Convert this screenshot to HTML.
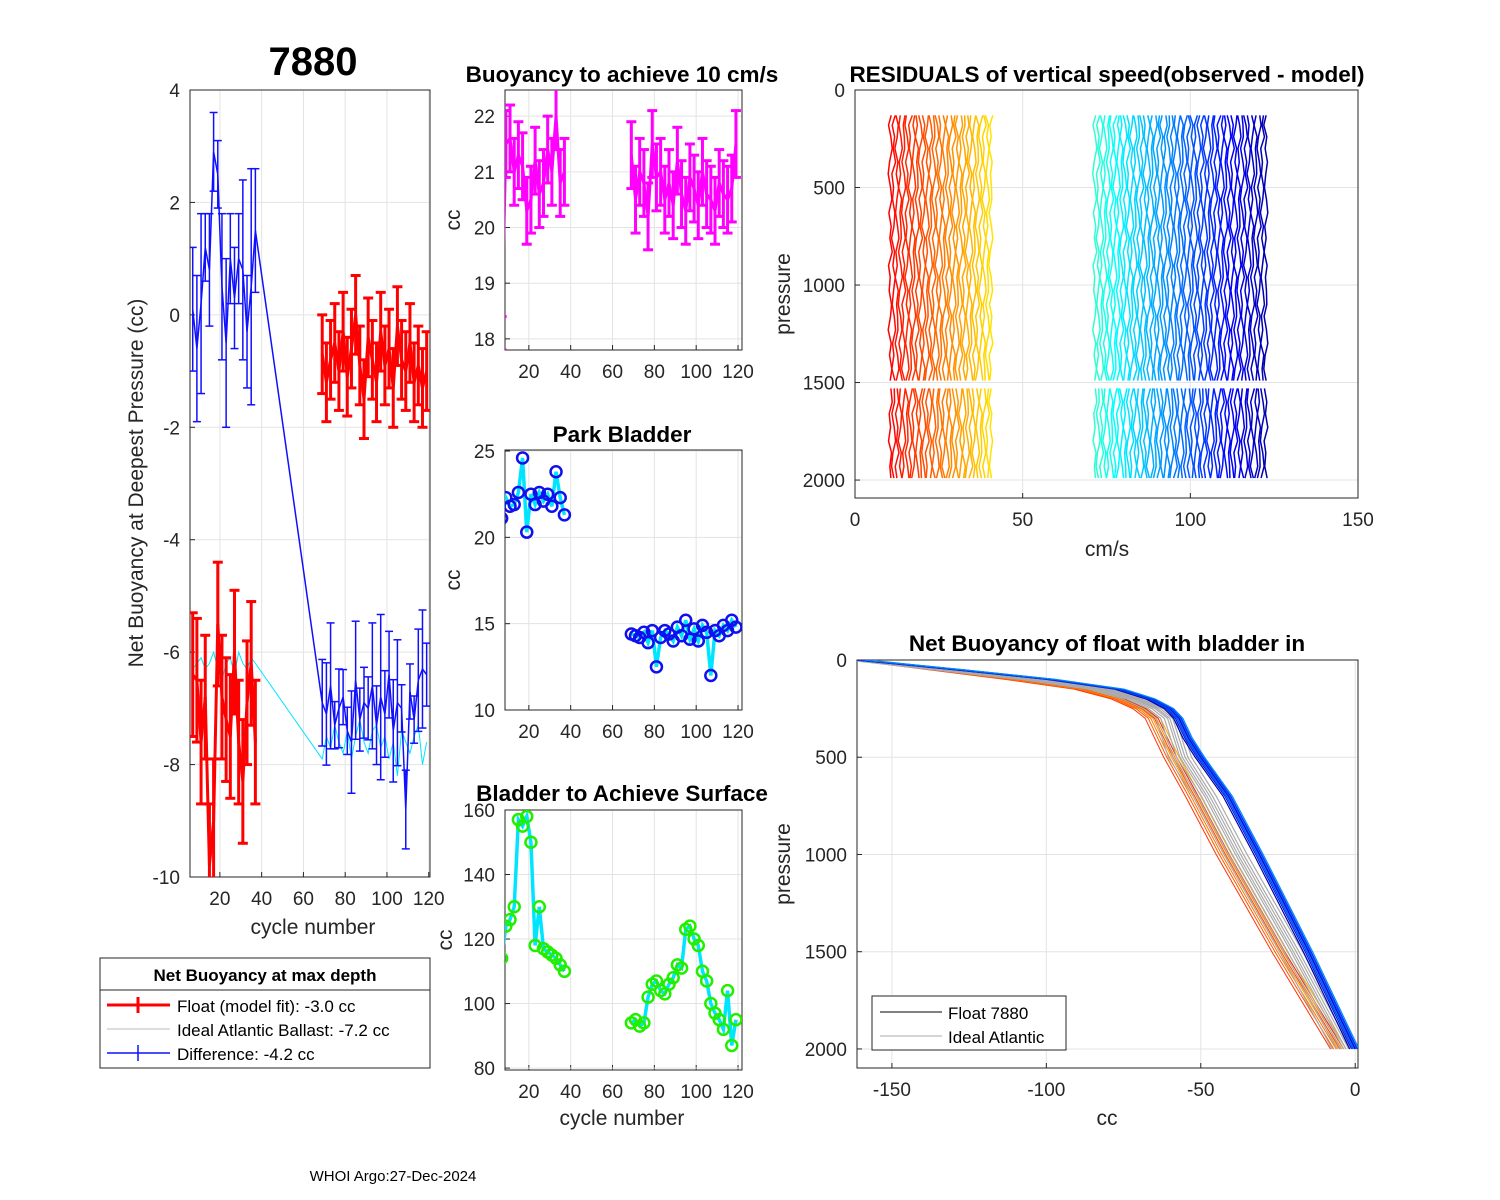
<!DOCTYPE html>
<html><head><meta charset="utf-8">
<style>
html,body{margin:0;padding:0;background:#fff;}
svg{display:block;font-family:"Liberation Sans",Arial,sans-serif;}
</style></head>
<body>
<svg id="s" width="1500" height="1200" viewBox="0 0 1500 1200"></svg>
<script>
// ---------- data ----------
const cyc1 = [7,9,11,13,15,17,19,21,23,25,27,29,31,33,35,37];
const cyc2 = [69,71,73,75,77,79,81,83,85,87,89,91,93,95,97,99,101,103,105,107,109,111,113,115,117,119];
const floatFit1 = [-6.4,-6.5,-7.6,-6.8,-9.8,-9.0,-5.5,-6.8,-7.2,-7.5,-6.0,-7.6,-8.3,-6.9,-6.2,-7.6];
const floatFit2 = [-0.7,-1.2,-0.8,-0.5,-1.0,-0.3,-1.1,-0.6,0.0,-0.9,-1.5,-0.4,-0.8,-1.2,-0.3,-0.9,-0.6,-1.3,-0.2,-0.8,-1.0,-0.5,-1.2,-0.9,-1.3,-1.0];
const diff1 = [0.1,-0.6,0.2,1.2,0.8,2.9,2.5,0.5,-0.5,1.0,0.3,1.0,0.8,-0.3,0.5,1.5];
const diff2 = [-6.9,-7.1,-6.6,-7.3,-7.0,-6.8,-7.4,-7.6,-6.5,-7.2,-6.9,-7.0,-6.6,-7.3,-6.8,-7.1,-6.4,-7.4,-6.9,-7.0,-8.8,-6.7,-7.2,-6.5,-6.3,-6.4];
const ideal1 = [-6.3,-6.2,-6.1,-6.3,-6.2,-6.0,-6.3,-6.5,-6.2,-6.1,-6.4,-6.0,-6.2,-6.3,-6.1,-6.2];
const ideal2 = [-7.9,-7.5,-7.7,-7.3,-7.6,-7.8,-7.4,-7.9,-7.5,-7.2,-7.6,-7.8,-7.4,-7.3,-7.7,-7.5,-7.9,-7.6,-8.2,-7.4,-7.6,-7.8,-7.5,-7.3,-8.0,-7.6];
const speed1 = [18.1,21.5,21.6,21.0,21.3,21.1,20.3,20.5,21.2,20.6,20.8,21.4,21.0,22.0,20.8,21.0];
const speed2 = [21.3,20.5,21.0,20.8,20.2,21.5,20.9,21.0,20.5,20.8,20.4,21.2,20.6,20.3,20.9,20.7,20.4,21.0,20.6,20.5,20.3,20.8,20.6,20.5,20.7,21.5];
const park1 = [21.1,22.3,21.8,21.9,22.6,24.6,20.3,22.5,21.9,22.6,22.1,22.5,21.8,23.8,22.3,21.3];
const park2 = [14.4,14.3,14.2,14.5,13.9,14.6,12.5,14.2,14.6,14.4,14.0,14.8,14.3,15.2,14.1,14.7,14.0,14.9,14.5,12.0,14.6,14.3,14.9,14.6,15.2,14.8];
const surf1 = [114,124,126,130,157,155,158,150,118,130,117,116,115,114,112,110];
const surf2 = [94,95,93,94,102,106,107,104,103,106,108,112,111,123,124,120,118,110,107,100,97,95,92,104,87,95];
const resCycles = [7,8,9,10,11,12,13,14,15,16,17,18,19,20,21,22,23,24,25,26,27,28,29,30,31,32,33,34,35,36,37,68,69,70,71,72,73,74,75,76,77,78,79,80,81,82,83,84,85,86,87,88,89,90,91,92,93,94,95,96,97,98,99,100,101,102,103,104,105,106,107,108,109,110,111,112,113,114,115,116,117,118,119];
const resPres = [130,180,240,300,370,430,500,560,630,700,760,830,900,960,1030,1100,1160,1230,1300,1360,1430,1490,null,1530,1600,1660,1730,1800,1860,1930,1990];
const resWiggle = [0.3,-0.5,0.2,0.6,-0.2,-0.6,0.1,0.5,-0.4,0.3,-0.1,0.6,-0.5,0.0,-0.3,0.4,0.1,-0.6,0.3,-0.2,0.5,0,-0.4,0.2,0.6,-0.3,0.1,-0.5,0.4,-0.1,0.2];
const nbPres = [0,50,100,150,200,250,300,400,500,700,1000,1500,2000];
const nbOrange = [-160,-135,-110,-88,-76,-69,-65,-62,-59,-52,-42,-24,-5];
const nbGray = [-160,-132,-104,-82,-71,-64,-60,-58,-56,-48,-38,-20,-3];
const nbBlue = [-160,-128,-98,-76,-66,-60,-57,-54,-50,-41,-31,-15,0];
const curveShift = [-3,-2,-1.2,-0.5,0,0.6,1.2,2];

// ---------- helpers ----------
const S = document.getElementById('s');
const NS = 'http://www.w3.org/2000/svg';
function mk(tag, attrs, parent, txt){
  const e = document.createElementNS(NS, tag);
  for (const k in attrs) e.setAttribute(k, attrs[k]);
  if (txt !== undefined) e.textContent = txt;
  (parent||S).appendChild(e); return e;
}
function axes(name, L, T, R, B, x0, x1, y0, y1, xt, yt, yFlip){
  const g = mk('g', {});
  
  
  const fx = v => L + (v - x0) / (x1 - x0) * (R - L);
  const fy = yFlip ? (v => T + (v - y0) / (y1 - y0) * (B - T)) : (v => B - (v - y0) / (y1 - y0) * (B - T));
  mk('rect', {x:L, y:T, width:R-L, height:B-T, fill:'#fff'}, g);
  xt.forEach(v => { const x = fx(v);
    mk('line', {x1:x, x2:x, y1:T, y2:B, stroke:'#e3e3e3', 'stroke-width':1}, g);
    mk('line', {x1:x, x2:x, y1:B, y2:B-5, stroke:'#262626'}, g);
    const t = mk('text', {x:x, y:B+28, 'text-anchor':'middle', 'font-size':19, fill:'#262626'}, g, String(v));
     
  });
  yt.forEach(v => { const y = fy(v);
    mk('line', {x1:L, x2:R, y1:y, y2:y, stroke:'#e3e3e3', 'stroke-width':1}, g);
    mk('line', {x1:L, x2:L+5, y1:y, y2:y, stroke:'#262626'}, g);
    const t = mk('text', {x:L-10, y:y+7, 'text-anchor':'end', 'font-size':19, fill:'#262626'}, g, String(v));
     
  });
  mk('rect', {x:L, y:T, width:R-L, height:B-T, fill:'none', stroke:'#262626', 'stroke-width':1}, g);
  const clipId = 'c' + name;
  const cp = mk('clipPath', {id:clipId}, g); mk('rect', {x:L, y:T, width:R-L, height:B-T}, cp);
  const plot = mk('g', {'clip-path':'url(#'+clipId+')'}, g);
  return {fx, fy, g, plot};
}
function label(txt, x, y, size, bold, name, rot){
  const a = {x:x, y:y, 'text-anchor':'middle', 'font-size':size, fill: bold ? '#000' : '#262626'};
  if (bold) a['font-weight'] = 'bold';
  if (rot) a.transform = 'rotate(-90 '+x+' '+y+')';
  const t = mk('text', a, S, txt);
   
  return t;
}
function poly(ax, xs, ys, attrs, name){
  const pts = xs.map((x,i) => ax.fx(x)+','+ax.fy(ys[i])).join(' ');
  const p = mk('polyline', Object.assign({points:pts, fill:'none'}, attrs), ax.plot);
   
  return p;
}
function errbar(ax, x, y, e, color, w, cap, name){
  const g = mk('g', {stroke:color, 'stroke-width':w}, ax.plot);
   
  const X = ax.fx(x), Y1 = ax.fy(y-e), Y2 = ax.fy(y+e);
  mk('line', {x1:X, x2:X, y1:Y1, y2:Y2}, g);
  mk('line', {x1:X-cap, x2:X+cap, y1:Y1, y2:Y1}, g);
  mk('line', {x1:X-cap, x2:X+cap, y1:Y2, y2:Y2}, g);
}
function jet(f){
  const r = Math.max(0, Math.min(1, 1.5 - Math.abs(4*f - 3)));
  const g = Math.max(0, Math.min(1, 1.5 - Math.abs(4*f - 2)));
  const b = Math.max(0, Math.min(1, 1.5 - Math.abs(4*f - 1)));
  return 'rgb('+Math.round(r*255)+','+Math.round(g*255)+','+Math.round(b*255)+')';
}
const errDiff = [1.1,1.3,1.6,0.6,1.0,0.7,0.6,1.3,1.5,0.8,0.9,0.8,1.6,1.0,2.1,1.1];
const TS = 22.5;

// ---------- panel 1 ----------
const a1 = axes('net-buoyancy-axes', 190, 90, 430, 877, 5.7, 120.6, -10, 4, [20,40,60,80,100,120], [-10,-8,-6,-4,-2,0,2,4]);
const allC = cyc1.concat(cyc2);
poly(a1, allC, ideal1.concat(ideal2), {stroke:'#00e5ff', 'stroke-width':1}, 'ideal-atlantic-line');
poly(a1, allC, diff1.concat(diff2), {stroke:'#1010ff', 'stroke-width':1.5}, 'difference-line');
poly(a1, cyc1, floatFit1, {stroke:'#ff0000', 'stroke-width':3}, 'float-fit-line-early');
poly(a1, cyc2, floatFit2, {stroke:'#ff0000', 'stroke-width':3}, 'float-fit-line-late');
cyc1.forEach((c,i) => errbar(a1, c, floatFit1[i], 1.1, '#ff0000', 3, 5, 'float-fit-errorbar'));
cyc2.forEach((c,i) => errbar(a1, c, floatFit2[i], 0.7, '#ff0000', 3, 5, 'float-fit-errorbar'));
cyc1.forEach((c,i) => errbar(a1, c, diff1[i], errDiff[i], '#1010ff', 1.5, 4, 'difference-errorbar'));
cyc2.forEach((c,i) => errbar(a1, c, diff2[i], errDiff[i%16]*0.7, '#1010ff', 1.5, 4, 'difference-errorbar'));
label('7880', 313, 75, 40, true, 'float-id-title');
label('cycle number', 313, 934, 21, false, 'x-axis-title');
label('Net Buoyancy at Deepest Pressure (cc)', 143, 483, 21, false, 'y-axis-title', true);

// ---------- panel 2 ----------
const a2 = axes('buoyancy-speed-axes', 505, 90, 742, 350, 8.6, 121.9, 17.8, 22.47, [20,40,60,80,100,120], [18,19,20,21,22]);
poly(a2, cyc1, speed1, {stroke:'#ff00ff', 'stroke-width':3}, 'speed-line-early');
poly(a2, cyc2, speed2, {stroke:'#ff00ff', 'stroke-width':3}, 'speed-line-late');
cyc1.forEach((c,i) => errbar(a2, c, speed1[i], i===0?0.3:0.6, '#ff00ff', 3, 5, 'speed-errorbar'));
cyc2.forEach((c,i) => errbar(a2, c, speed2[i], 0.6, '#ff00ff', 3, 5, 'speed-errorbar'));
label('Buoyancy to achieve 10 cm/s', 622, 82, TS, true, 'speed-title');
label('cc', 460, 220, 21, false, 'speed-y-title', true);

// ---------- panel 3 ----------
const a3 = axes('park-bladder-axes', 505, 450, 742, 710, 8.6, 121.9, 10, 25.06, [20,40,60,80,100,120], [10,15,20,25]);
function circleSeries(ax, xs, ys, line, ring, nm){
  poly(ax, xs, ys, {stroke:line, 'stroke-width':3.5}, nm+'-line');
  xs.forEach((x,i) => { const c = mk('circle', {cx:ax.fx(x), cy:ax.fy(ys[i]), r:5.5, fill:'none', stroke:ring, 'stroke-width':2.5}, ax.plot);
      });
}
circleSeries(a3, cyc1, park1, '#00e5ff', '#1010ee', 'park-early');
circleSeries(a3, cyc2, park2, '#00e5ff', '#1010ee', 'park-late');
label('Park Bladder', 622, 442, TS, true, 'park-title');
label('cc', 460, 580, 21, false, 'park-y-title', true);

// ---------- panel 4 ----------
const a4 = axes('surface-bladder-axes', 505, 810, 742, 1070, 8.6, 121.9, 79.4, 160, [20,40,60,80,100,120], [80,100,120,140,160]);
circleSeries(a4, cyc1, surf1, '#00e5ff', '#22ee00', 'surface-early');
circleSeries(a4, cyc2, surf2, '#00e5ff', '#22ee00', 'surface-late');
label('Bladder to Achieve Surface', 622, 801, TS, true, 'surface-title');
label('cycle number', 622, 1125, 21, false, 'surface-x-title');
label('cc', 452, 940, 21, false, 'surface-y-title', true);

// ---------- panel 5 ----------
const a5 = axes('residuals-axes', 855, 90, 1358, 498, 0, 150, 0, 2092, [0,50,100,150], [0,500,1000,1500,2000], true);
resCycles.forEach((c,k) => {
  const f = 0.875 - (c-7)/(119-7)*0.83;
  let seg = [];
  const segs = [];
  resPres.forEach((p,j) => {
    if (p === null) { segs.push(seg); seg = []; return; }
    const w = resWiggle[(j + k*7) % resWiggle.length];
    seg.push(a5.fx(c + 3.5 + w) + ',' + a5.fy(p));
  });
  segs.push(seg);
  segs.forEach(sg => { const pl = mk('polyline', {points:sg.join(' '), fill:'none', stroke:jet(f), 'stroke-width':1.5}, a5.plot);
      });
});
label('RESIDUALS of vertical speed(observed - model)', 1107, 82, TS, true, 'residuals-title');
label('cm/s', 1107, 556, 21, false, 'residuals-x-title');
label('pressure', 790, 294, 21, false, 'residuals-y-title', true);

// ---------- panel 6 ----------
const a6 = axes('bladder-in-axes', 857, 660, 1358, 1068, -161.3, 0.9, 0, 2098, [-150,-100,-50,0], [0,500,1000,1500,2000], true);
const orangeCols = ['#ff3300','#ff5500','#ff7700','#ff9900','#ff4400','#ff8800','#ee2200','#ffaa00'];
const blueCols = ['#0000aa','#0022dd','#0044ff','#0066ff','#0000cc','#1155ff','#0033ee','#0088ff'];
curveShift.forEach((s,i) => poly(a6, nbOrange.map(v=>v+s), nbPres, {stroke:orangeCols[i], 'stroke-width':1}, 'float-curve-orange'));
curveShift.forEach((s,i) => poly(a6, nbGray.map(v=>v+s*1.5), nbPres, {stroke:'#aaaaaa', 'stroke-width':1.2}, 'ideal-atlantic-curve'));
curveShift.forEach((s,i) => poly(a6, nbBlue.map(v=>v+s*0.6), nbPres, {stroke:blueCols[i], 'stroke-width':1.2}, 'float-curve-blue'));
label('Net Buoyancy of float with bladder in', 1107, 651, TS, true, 'bladder-in-title');
label('cc', 1107, 1125, 21, false, 'bladder-in-x-title');
label('pressure', 790, 864, 21, false, 'bladder-in-y-title', true);

// legend panel 6
const lg6 = mk('g', {});
 
mk('rect', {x:872, y:996, width:194, height:54, fill:'#fff', stroke:'#262626'}, lg6);
mk('line', {x1:880, x2:942, y1:1012, y2:1012, stroke:'#000'}, lg6);
mk('text', {x:948, y:1019, 'font-size':17, fill:'#000'}, lg6, 'Float 7880');
mk('line', {x1:880, x2:942, y1:1036, y2:1036, stroke:'#aaa'}, lg6);
mk('text', {x:948, y:1043, 'font-size':17, fill:'#000'}, lg6, 'Ideal Atlantic');

// legend panel 1
const lg1 = mk('g', {});
 
mk('rect', {x:100, y:958, width:330, height:110, fill:'#fff', stroke:'#262626'}, lg1);
mk('line', {x1:100, x2:430, y1:990, y2:990, stroke:'#262626'}, lg1);
mk('text', {x:265, y:981, 'font-size':17, 'font-weight':'bold', 'text-anchor':'middle', fill:'#000'}, lg1, 'Net Buoyancy at max depth');
mk('line', {x1:107, x2:170, y1:1005, y2:1005, stroke:'#f00', 'stroke-width':3}, lg1);
mk('line', {x1:138, x2:138, y1:997, y2:1013, stroke:'#f00', 'stroke-width':3}, lg1);
mk('text', {x:177, y:1012, 'font-size':17, fill:'#000'}, lg1, 'Float (model fit):  -3.0 cc');
mk('line', {x1:107, x2:170, y1:1029, y2:1029, stroke:'#bbb', 'stroke-width':1}, lg1);
mk('text', {x:177, y:1036, 'font-size':17, fill:'#000'}, lg1, 'Ideal Atlantic Ballast:  -7.2 cc');
mk('line', {x1:107, x2:170, y1:1053, y2:1053, stroke:'#1010ff', 'stroke-width':1.5}, lg1);
mk('line', {x1:138, x2:138, y1:1045, y2:1061, stroke:'#1010ff', 'stroke-width':1.5}, lg1);
mk('text', {x:177, y:1060, 'font-size':17, fill:'#000'}, lg1, 'Difference:  -4.2 cc');

label('WHOI Argo:27-Dec-2024', 393, 1181, 15, false, 'footer-note').setAttribute('fill','#000');
</script>
</body></html>
